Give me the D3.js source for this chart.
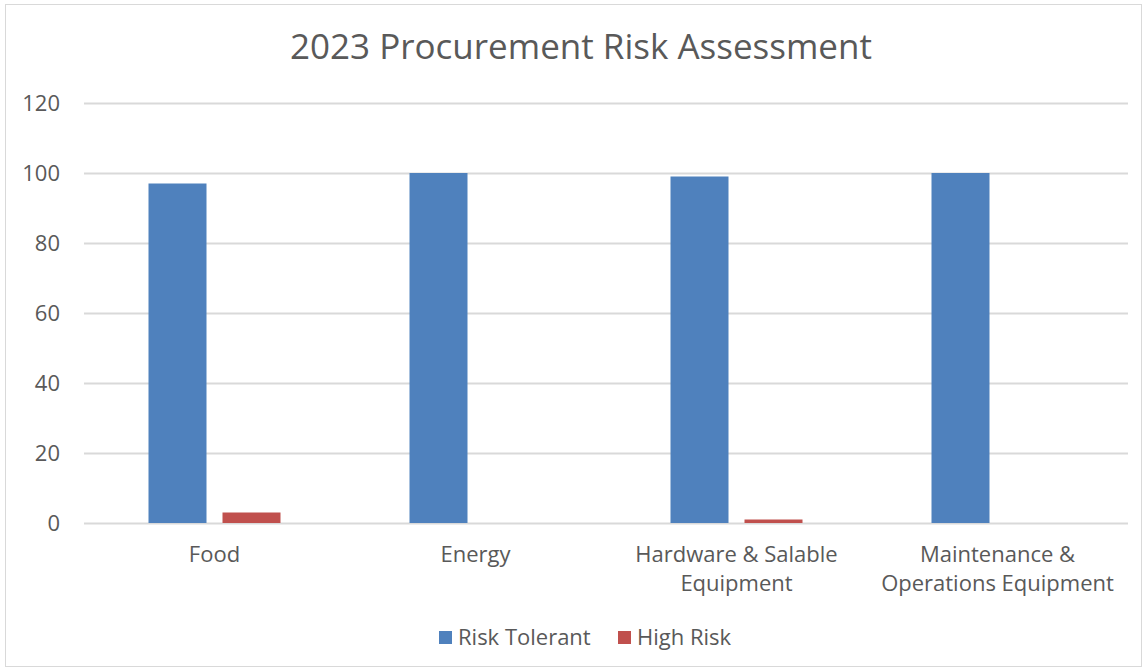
<!DOCTYPE html>
<html><head><meta charset="utf-8">
<script src="https://cdn.jsdelivr.net/npm/d3@7"></script>
<style>body{margin:0;background:#fff;}svg{display:block;font-family:"Open Sans",sans-serif;}</style>
</head><body><svg id="c" width="1147" height="669"></svg>
<script>
const categories = ["Food","Energy","Hardware & Salable Equipment","Maintenance & Operations Equipment"];
const categoryLines = [["Food"],["Energy"],["Hardware & Salable","Equipment"],["Maintenance &","Operations Equipment"]];
const seriesNames = ["Risk Tolerant","High Risk"];
const riskTolerant = [97,100,99,100];
const highRisk = [3,0,1,0];
const yTicks = [0,20,40,60,80,100,120];
const colors = ["#4F81BD","#C0504D"];

(function(){
const svg = d3.select("#c");
svg.append("rect").attr("x",5.5).attr("y",4.5).attr("width",1136).attr("height",662)
  .attr("fill","#fff").attr("stroke","#d9d9d9");
const pl=84,pr=1128,pt=103,pb=523;
const x = d3.scaleBand().domain(categories).range([pl,pr]);
const y = d3.scaleLinear().domain([0,120]).range([pb,pt]);
const inner = d3.scaleBand().domain(seriesNames).range([0,132]).paddingInner(16/74);

svg.append("text").attr("x",581).attr("y",59).attr("text-anchor","middle")
  .attr("font-size",35).attr("fill","#595959").text("2023 Procurement Risk Assessment");

const ya = svg.append("g").attr("transform",`translate(${pl},0)`)
  .call(d3.axisLeft(y).tickValues(yTicks).tickSize(-(pr-pl)).tickPadding(24));
ya.select(".domain").remove();
ya.selectAll(".tick line").attr("stroke","#d9d9d9").attr("stroke-width",2);
ya.selectAll(".tick text").attr("font-size",22).attr("fill","#595959").attr("font-family","Open Sans, sans-serif");

const data = categories.map((c,i)=>({c, v:[riskTolerant[i],highRisk[i]]}));
const g = svg.append("g");
data.forEach(d=>{
  const x0 = x(d.c)+(x.bandwidth()-132)/2;
  d.v.forEach((v,j)=>{
    g.append("rect").attr("x",x0+inner(seriesNames[j])).attr("width",inner.bandwidth())
      .attr("y",y(v)).attr("height",y(0)-y(v)).attr("fill",colors[j]);
  });
});

categories.forEach((c,i)=>{
  const t = svg.append("text").attr("text-anchor","middle").attr("font-size",22).attr("fill","#595959");
  categoryLines[i].forEach((l,k)=>{
    t.append("tspan").attr("x",x(c)+x.bandwidth()/2).attr("y",562+k*29).text(l);
  });
});

const lx=[439,618];
seriesNames.forEach((s,j)=>{
  svg.append("rect").attr("x",lx[j]).attr("y",631).attr("width",13).attr("height",13).attr("fill",colors[j]);
  svg.append("text").attr("x",lx[j]+19).attr("y",645).attr("font-size",22).attr("fill","#595959").text(s);
});
})();
</script></body></html>
